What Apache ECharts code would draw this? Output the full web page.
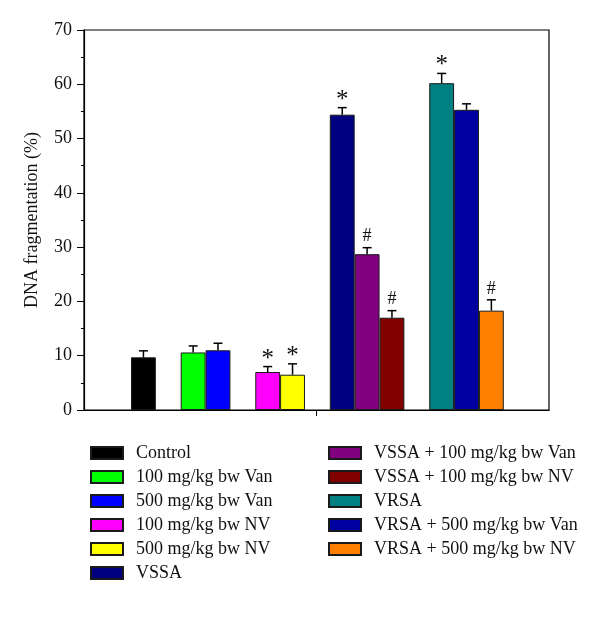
<!DOCTYPE html>
<html>
<head>
<meta charset="utf-8">
<script src="https://cdn.jsdelivr.net/npm/echarts@6/dist/echarts.min.js"></script>
<style>html,body{margin:0;padding:0;background:#fff}#c{width:600px;height:633px}</style>
</head>
<body>
<div id="c"></div>
<script>
// ---- data ----
const categories = ['Control', '100 mg/kg bw Van', '500 mg/kg bw Van', '100 mg/kg bw NV', '500 mg/kg bw NV', 'VSSA',
  'VSSA + 100 mg/kg bw Van', 'VSSA + 100 mg/kg bw NV', 'VRSA', 'VRSA + 500 mg/kg bw Van', 'VRSA + 500 mg/kg bw NV'];
const means = [9.7, 10.6, 11.0, 7.0, 6.5, 54.4, 28.7, 17.0, 60.2, 55.3, 18.3];
const upper = [10.9, 11.8, 12.3, 8.0, 8.5, 55.7, 29.9, 18.3, 62.0, 56.4, 20.3];
const marks = ['', '', '', '*', '*', '*', '#', '#', '*', '', '#'];
const yTicks = [0, 10, 20, 30, 40, 50, 60, 70];
const yTitle = 'DNA fragmentation (%)';

// ---- layout / style ----
const colors = ['#000000', '#00ff00', '#0000ff', '#ff00ff', '#ffff00', '#000080', '#800080', '#800000', '#008080', '#0000a0', '#ff8000'];
const slotOf = [2, 4, 5, 7, 8, 10, 11, 12, 14, 15, 16];
const nSlots = 19;
const FONT = '"Liberation Serif", "DejaVu Serif", serif';

const slotCats = Array.from({length: nSlots}, (_, i) => 's' + i);
const series = categories.map((name, i) => {
  const d = slotCats.map(() => '-');
  d[slotOf[i]] = means[i];
  return {
    name, type: 'bar', xAxisIndex: 1, yAxisIndex: 1, stack: 'all',
    barWidth: '100%', data: d, silent: true,
    itemStyle: {color: colors[i], borderColor: '#1a1a1a', borderWidth: 1}
  };
});
series.push({
  type: 'custom', xAxisIndex: 1, yAxisIndex: 1, silent: true, z: 10,
  data: categories.map((c, i) => [slotOf[i], means[i], upper[i], marks[i]]),
  renderItem: function (params, api) {
    const p0 = api.coord([api.value(0), api.value(1)]);
    const p1 = api.coord([api.value(0), api.value(2)]);
    const m = marks[params.dataIndex];
    const children = [
      {type: 'line', shape: {x1: p0[0], y1: p0[1], x2: p1[0], y2: p1[1]}, style: {stroke: '#000', lineWidth: 1.5}},
      {type: 'line', shape: {x1: p1[0] - 4.5, y1: p1[1], x2: p1[0] + 4.5, y2: p1[1]}, style: {stroke: '#000', lineWidth: 1.5}}
    ];
    if (m) {
      const star = m === '*';
      children.push({type: 'text', x: p1[0], y: star ? p1[1] + 5 : p1[1] - 11,
        style: {text: m, font: (star ? '25px ' : '18px ') + FONT, fill: '#111', align: 'center',
          verticalAlign: star ? 'bottom' : 'middle'}});
    }
    return {type: 'group', children};
  }
});

const chart = echarts.init(document.getElementById('c'), null, {renderer: 'canvas'});
chart.setOption({
  animation: false,
  backgroundColor: '#fff',
  grid: [
    {left: 84, right: 51, top: 30, bottom: 223, show: true, borderColor: '#000', borderWidth: 1.2, backgroundColor: 'transparent'},
    {left: 81.3, right: 46.5, top: 30, bottom: 223}
  ],
  xAxis: [
    {type: 'value', gridIndex: 0, min: 0, max: 2, interval: 1,
      axisLine: {show: true, lineStyle: {color: '#000', width: 1.2}},
      axisTick: {show: true, inside: false, length: 6, customValues: [1], lineStyle: {color: '#000'}},
      axisLabel: {show: false}, splitLine: {show: false}},
    {type: 'category', gridIndex: 1, data: slotCats, show: false, boundaryGap: true}
  ],
  yAxis: [
    {type: 'value', gridIndex: 0, min: 0, max: 70, interval: 10,
      name: yTitle, nameLocation: 'middle', nameGap: 43,
      nameTextStyle: {fontFamily: FONT, fontSize: 18, color: '#111'},
      axisLine: {show: true, lineStyle: {color: '#000', width: 1.2}},
      axisTick: {show: true, length: 7, lineStyle: {color: '#000'}},
      minorTick: {show: true, splitNumber: 2, length: 3, lineStyle: {color: '#000'}},
      axisLabel: {fontFamily: FONT, fontSize: 18, color: '#111', margin: 12,
        formatter: v => yTicks.includes(v) ? String(v) : ''},
      splitLine: {show: false}},
    {type: 'value', gridIndex: 1, min: 0, max: 70, show: false, splitLine: {show: false}}
  ],
  legend: [
    {orient: 'vertical', left: 90, top: 444, padding: 0, itemWidth: 32, itemHeight: 12, itemGap: 6, icon: 'rect',
      data: categories.slice(0, 6), selectedMode: false,
      textStyle: {fontFamily: FONT, fontSize: 18, color: '#111', lineHeight: 18, padding: [0, 0, 0, 8]}},
    {orient: 'vertical', left: 328, top: 444, padding: 0, itemWidth: 32, itemHeight: 12, itemGap: 6, icon: 'rect',
      data: categories.slice(6), selectedMode: false,
      textStyle: {fontFamily: FONT, fontSize: 18, color: '#111', lineHeight: 18, padding: [0, 0, 0, 8]}}
  ],
  series
});
</script>
</body>
</html>
